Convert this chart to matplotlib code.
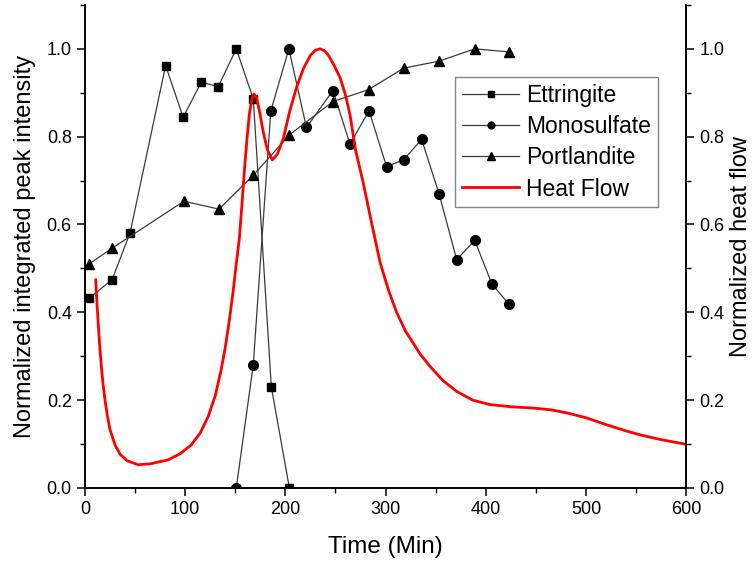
import matplotlib
matplotlib.use("Agg")
import matplotlib.pyplot as plt
from matplotlib.ticker import MultipleLocator

plt.rcParams['font.family'] = ['Liberation Sans', 'DejaVu Sans']

# XRD phase evolution (normalized integrated peak intensity)
ett_t = [4, 27, 45, 80.5, 98, 116, 133, 151, 168, 186, 204]
ett_v = [0.432, 0.474, 0.581, 0.962, 0.844, 0.924, 0.914, 1.0, 0.886, 0.23, 0.0]

mono_t = [151, 168, 185.5, 203.5, 221, 247.5, 264.5, 283.5, 301, 318, 336,
          353.5, 371, 389, 406, 423]
mono_v = [0.0, 0.281, 0.859, 1.0, 0.821, 0.905, 0.783, 0.859, 0.732, 0.747,
          0.794, 0.669, 0.520, 0.564, 0.465, 0.419]

port_t = [4, 27, 98.8, 133.7, 168, 204, 247.5, 283, 318, 353.5, 389, 423]
port_v = [0.51, 0.546, 0.653, 0.635, 0.712, 0.804, 0.88, 0.907, 0.956,
          0.972, 1.0, 0.993]

# Isothermal calorimetry (normalized heat flow)
heat_t = [10.7, 12, 13.5, 15, 16.6, 18, 20, 22.5, 25, 30, 35, 42, 53, 65, 83,
          95, 106, 115, 123, 130, 136, 140, 144, 148, 151, 154, 156.5, 159,
          161.5, 164, 166.5, 168.5, 171, 174, 178, 182, 187, 192, 198, 204,
          211, 218, 225, 230, 234.5, 239, 243, 248, 254.5, 260, 264.5, 270,
          277.5, 285, 290, 294.5, 303, 311, 320, 334.5, 344, 357, 371, 387,
          404, 425, 447.5, 465, 481, 500, 520.5, 540, 554, 575, 599]
heat_v = [0.474, 0.42, 0.365, 0.315, 0.27, 0.238, 0.20, 0.163, 0.133, 0.098,
          0.077, 0.062, 0.053, 0.055, 0.064, 0.078, 0.098, 0.125, 0.163, 0.21,
          0.27, 0.32, 0.38, 0.45, 0.51, 0.567, 0.64, 0.72, 0.79, 0.85, 0.885,
          0.897, 0.89, 0.86, 0.81, 0.77, 0.747, 0.76, 0.796, 0.855, 0.911,
          0.955, 0.985, 0.997, 1.0, 0.996, 0.985, 0.965, 0.935, 0.895, 0.85,
          0.77, 0.697, 0.615, 0.562, 0.514, 0.450, 0.400, 0.357, 0.305, 0.278,
          0.245, 0.22, 0.20, 0.19, 0.185, 0.182, 0.178, 0.171, 0.16, 0.144,
          0.13, 0.121, 0.11, 0.10]

fig = plt.figure(figsize=(7.54, 5.65), dpi=100)
ax = fig.add_axes([0.1127, 0.1363, 0.7973, 0.8550])
ax2 = ax.twinx()

line_kw = dict(color='#3a3a3a', lw=0.9, mfc='black', mec='black')
h1, = ax.plot(ett_t, ett_v, marker='s', ms=6, label='Ettringite', **line_kw)
h2, = ax.plot(mono_t, mono_v, marker='o', ms=7, label='Monosulfate', **line_kw)
h3, = ax.plot(port_t, port_v, marker='^', ms=7.5, label='Portlandite', **line_kw)
h4, = ax2.plot(heat_t, heat_v, color='#ff0000', lw=2, label='Heat Flow')

for a in (ax, ax2):
    a.set_xlim(0, 600)
    a.set_ylim(0, 1.1)
    a.spines['top'].set_visible(False)
    for s in a.spines.values():
        s.set_linewidth(1.2)
    a.yaxis.set_major_locator(MultipleLocator(0.2))
    a.yaxis.set_minor_locator(MultipleLocator(0.1))
    a.yaxis.set_major_formatter(plt.FormatStrFormatter('%.1f'))
    a.tick_params(which='major', direction='out', length=6, width=1.1,
                  labelsize=13)
    a.tick_params(which='minor', direction='out', length=3.5, width=1.0)

ax.xaxis.set_major_locator(MultipleLocator(100))
ax.xaxis.set_minor_locator(MultipleLocator(50))
ax.set_xlabel('Time (Min)', fontsize=17.5, labelpad=13)
ax.set_ylabel('Normalized integrated peak intensity', fontsize=17, labelpad=8)
ax2.set_ylabel('Normalized heat flow', fontsize=17, labelpad=4)

leg = ax2.legend(handles=[h1, h2, h3, h4], loc='upper left',
                 bbox_to_anchor=(0.616, 0.851), fontsize=16.5,
                 frameon=True, fancybox=False, markerscale=0.7,
                 handlelength=2.5, handletextpad=0.3, labelspacing=0.36,
                 borderpad=0.3, borderaxespad=0)
leg.get_frame().set_edgecolor('#666666')
leg.get_frame().set_linewidth(1.0)

fig.savefig('out.png', dpi=100)
